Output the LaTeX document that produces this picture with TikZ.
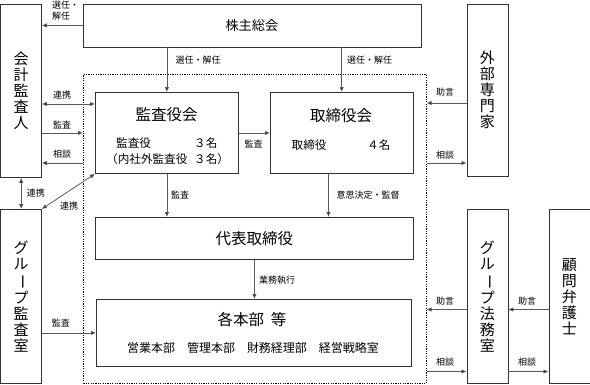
\documentclass[tikz,border=0pt]{standalone}
\usepackage{fontspec}
\setmainfont{Noto Sans CJK JP}
\usetikzlibrary{arrows.meta,calc}
\newcommand{\vbar}{\rotatebox[origin=c]{-90}{ー}}
\begin{document}
\begin{tikzpicture}[x=1pt,y=-1pt,
  box/.style={draw=black!80, line width=0.8pt, inner sep=0pt, anchor=north west},
  frm/.style={draw=black, line width=0.6pt, dash pattern=on 1.2pt off 1.2pt, inner sep=0pt, anchor=north west},
  arr/.style={draw=black!65, line width=0.8pt, -{Latex[length=5pt,width=4.5pt,fill=black]}},
  darr/.style={draw=black!65, line width=0.8pt, {Latex[length=5pt,width=4.5pt,fill=black]}-{Latex[length=5pt,width=4.5pt,fill=black]}},
  lbl/.style={font=\fontsize{9}{10}\selectfont, inner sep=0pt},
  big/.style={font=\fontsize{15.5}{17}\selectfont, inner sep=0pt},
  mid/.style={font=\fontsize{11.6}{13}\selectfont, inner sep=0pt},
  vt/.style={align=center, font=\fontsize{15}{16}\selectfont}]
\useasboundingbox (0,0) rectangle (590,384);

% frame
\node[frm, minimum width=343pt, minimum height=309pt] (frame) at (83,74) {};

% boxes
\node[box, minimum width=338pt, minimum height=43pt, font=\fontsize{13.2}{15}\selectfont] (kabu) at (82.5,3.5) {株主総会};
\node[box, vt, minimum width=40.5pt, minimum height=173.5pt] (kaikei) at (0.5,3.5) {会\\計\\監\\査\\人};
\node[box, minimum width=143pt, minimum height=81pt] (kansa) at (95,92) {};
\node[box, minimum width=142.5pt, minimum height=81pt] (tori) at (270,92) {};
\node[box, big, minimum width=318pt, minimum height=42pt] (daihyo) at (95,217) {代表取締役};
\node[box, minimum width=315pt, minimum height=67pt] (honbu) at (96,299) {};
\node[box, vt, minimum width=41pt, minimum height=172.5pt] (gaibu) at (466.5,3.5) {外\\部\\専\\門\\家};
\node[box, vt, minimum width=40.5pt, minimum height=174pt] (gaudit) at (0.5,209) {グ\\ル\\\vbar\\プ\\監\\査\\室};
\node[box, vt, minimum width=41pt, minimum height=174pt] (houmu) at (466.5,209) {グ\\ル\\\vbar\\プ\\法\\務\\室};
\node[box, vt, minimum width=41pt, minimum height=174pt] (komon) at (548.5,209) {顧\\問\\弁\\護\\士};

% box inner texts
\node[big] (kansaT) at (166.5,115) {監査役会};
\node[mid, anchor=west] (k1a) at (116,143) {監査役};
\node[mid, anchor=west] (k1b) at (194,143) {３名};
\node[mid, anchor=west] (k2a) at (106,159.5) {（内社外監査役};
\node[mid, anchor=west] (k2b) at (194,159.5) {３名）};
\node[big] (toriT) at (341,116) {取締役会};
\node[mid, anchor=west] (t1a) at (291.5,145) {取締役};
\node[mid, anchor=west] (t1b) at (367,145) {４名};
\node[big] (honbuT) at (252,320) {各本部\hspace{7pt}等};
\node[font=\fontsize{12}{14}\selectfont, inner sep=0pt] (honbuS) at (253,348) {営業本部\hspace{1em}管理本部\hspace{1em}財務経理部\hspace{1em}経営戦略室};

% helper coordinates
\coordinate (yA) at (0,104);
\coordinate (yB) at (0,163);
\coordinate (yC) at (0,103);
\coordinate (yD) at (0,309.5);
\coordinate (yE) at (0,371.5);
\coordinate (xF) at (328.5,0);

% connectors
\draw[arr] (kabu.west) -- (kabu.west -| kaikei.east);
\draw[arr] (kabu.south -| kansa.north) -- (kansa.north);
\draw[arr] (kabu.south -| tori.north) -- (tori.north);
\draw[darr] (kaikei.east |- yA) -- (kansa.west |- yA);
\draw[arr] (kaikei.east |- kansa.west) -- (frame.west |- kansa.west);
\draw[arr] (frame.west |- yB) -- (kaikei.east |- yB);
\draw[arr] (kansa.east) -- (tori.west |- kansa.east);
\draw[darr] (kaikei.south) -- (gaudit.north);
\draw[darr] (kansa.south west) -- (gaudit.north east);
\draw[arr] (kansa.south) -- (kansa.south |- daihyo.north);
\draw[arr] (xF |- tori.south) -- (xF |- daihyo.north);
\draw[arr] (daihyo.south) -- (daihyo.south |- honbu.north);
\draw[arr] (gaudit.east |- honbu.west) -- (honbu.west);
\draw[arr] (gaibu.west |- yC) -- (frame.east |- yC);
\draw[arr] (frame.east |- yB) -- (gaibu.west |- yB);
\draw[arr] (houmu.west |- yD) -- (frame.east |- yD);
\draw[arr] (komon.west |- yD) -- (houmu.east |- yD);
\draw[arr] (frame.east |- yE) -- (houmu.west |- yE);
\draw[arr] (houmu.east |- yE) -- (komon.west |- yE);

% labels
\node[lbl, anchor=west] (l1) at (52,5) {選任・};
\node[lbl, anchor=west] (l2) at (52,16.5) {解任};
\node[lbl] (l3) at (198,60.5) {選任・解任};
\node[lbl] (l4) at (369.5,60.5) {選任・解任};
\node[lbl] (l5) at (62,95) {連携};
\node[lbl] (l6) at (62,125) {監査};
\node[lbl] (l7) at (62,154) {相談};
\node[lbl] (l8) at (36,193) {連携};
\node[lbl] (l9) at (69,206) {連携};
\node[lbl] (l10) at (253.5,144) {監査};
\node[lbl] (l11) at (180,195) {監査};
\node[lbl] (l12) at (368,195) {意思決定・監督};
\node[lbl] (l13) at (277,280) {業務執行};
\node[lbl] (l14) at (61,323) {監査};
\node[lbl] (l15) at (445,92) {助言};
\node[lbl] (l16) at (445,155) {相談};
\node[lbl] (l17) at (445,301) {助言};
\node[lbl] (l18) at (527,301) {助言};
\node[lbl] (l19) at (445,362) {相談};
\node[lbl] (l20) at (527,362) {相談};
\end{tikzpicture}
\end{document}
